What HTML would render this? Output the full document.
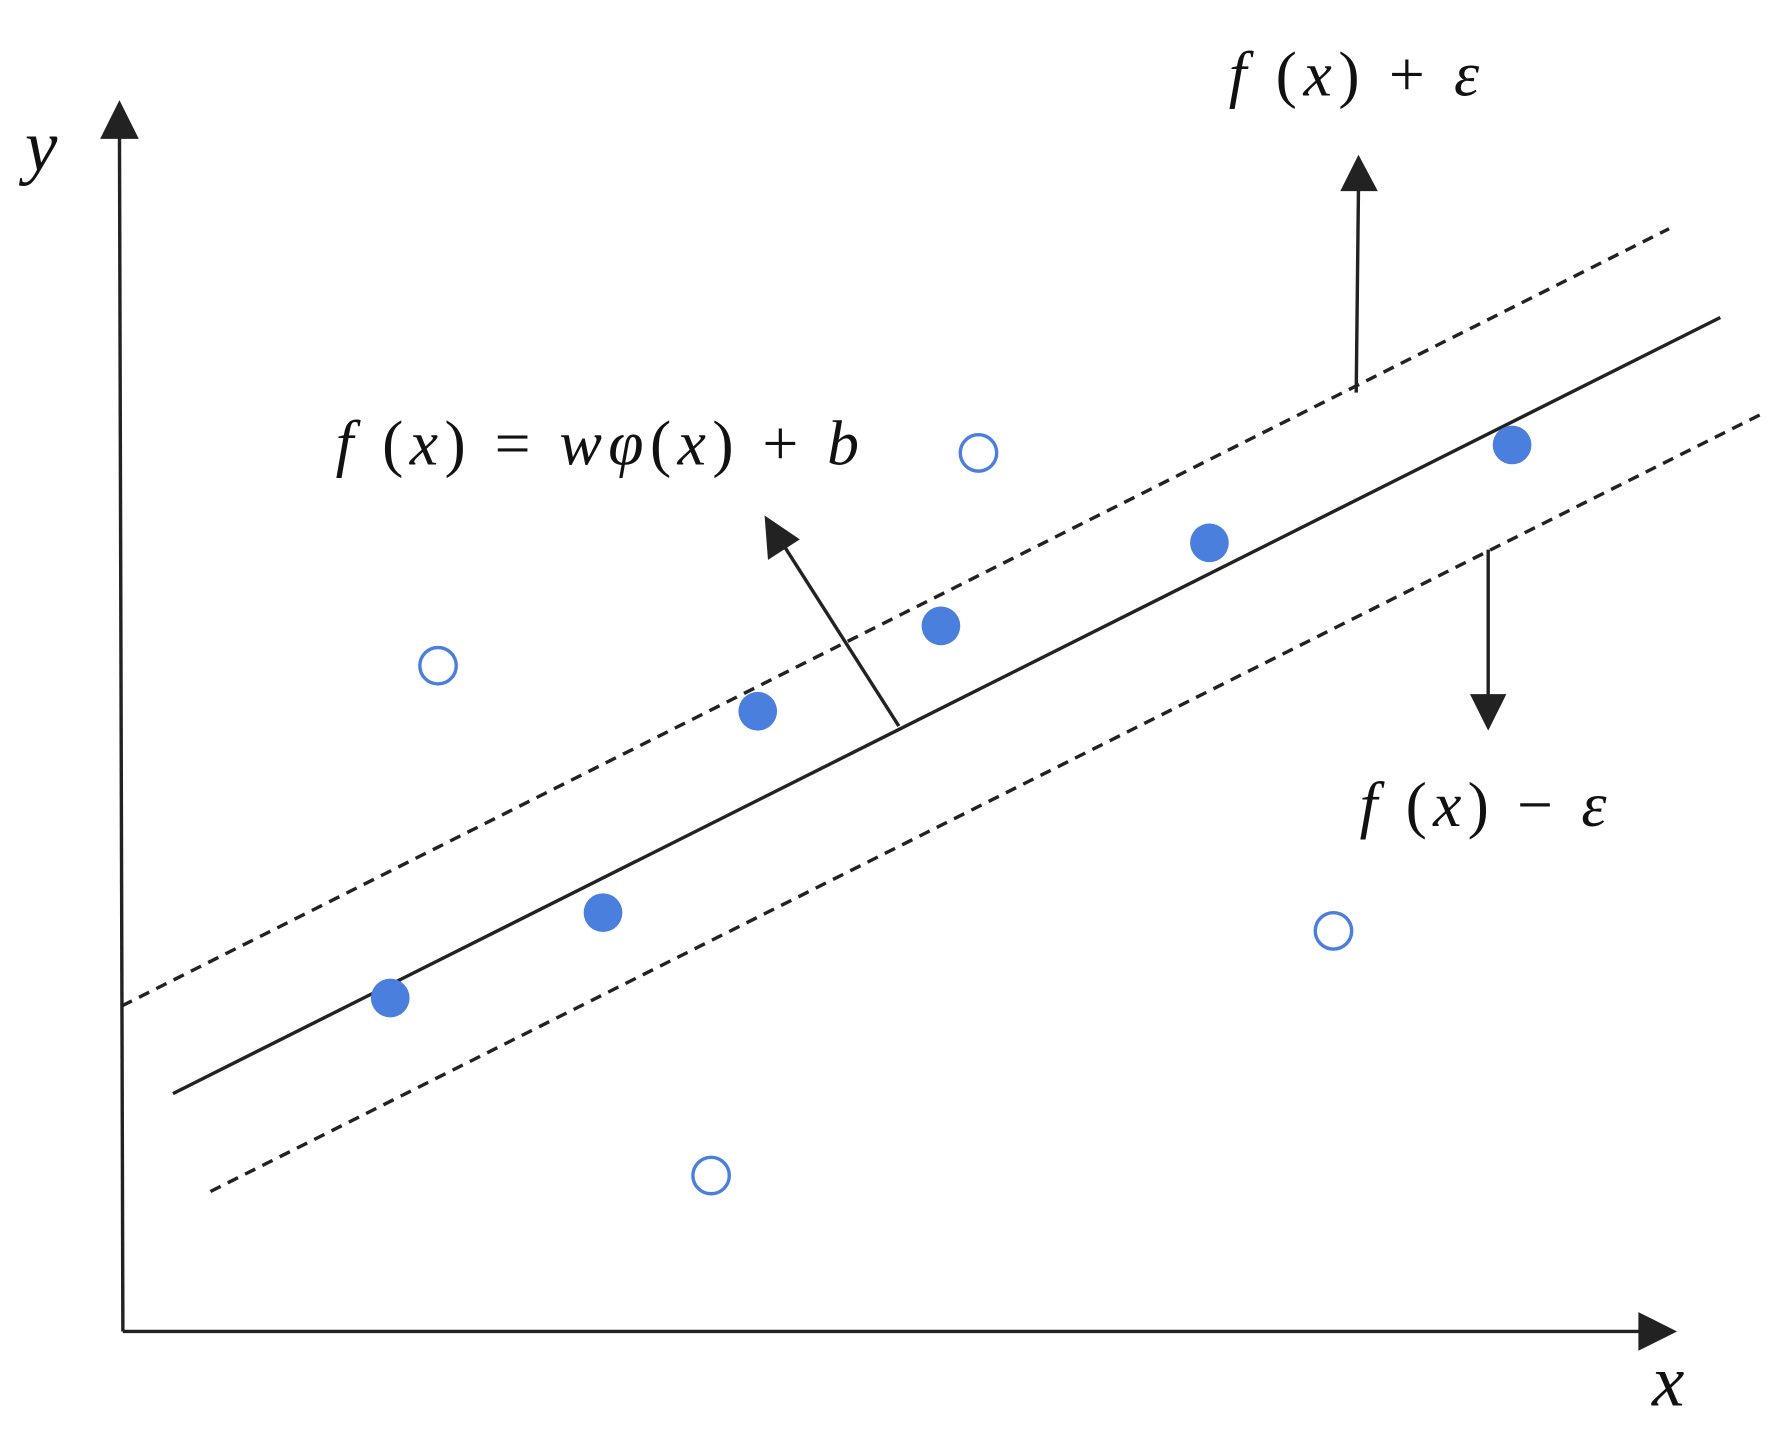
<!DOCTYPE html>
<html><head><style>html,body{margin:0;padding:0;background:#fff}svg{display:block}</style></head>
<body>
<svg width="1784" height="1435" viewBox="0 0 1568 1261" preserveAspectRatio="none" xmlns="http://www.w3.org/2000/svg">
<g stroke="#222" stroke-width="3" fill="none">
<line x1="105" y1="118" x2="108" y2="1170"/>
<line x1="108" y1="1170" x2="1442" y2="1170"/>
<line x1="152" y1="961" x2="1512" y2="279"/>
<line x1="107" y1="884" x2="1467" y2="201" stroke-dasharray="10,7"/>
<line x1="185" y1="1047" x2="1548" y2="364" stroke-dasharray="10,7"/>
<line x1="1192" y1="345" x2="1194" y2="165"/>
<line x1="1308" y1="483" x2="1308" y2="612"/>
<line x1="790" y1="638" x2="688" y2="478"/>
</g>
<g fill="#222">
<polygon points="105,88 88,122 122,122"/>
<polygon points="1474,1170 1440,1153 1440,1187"/>
<polygon points="1194,136 1178,168 1211,168"/>
<polygon points="1308,642 1292,610 1324,610"/>
<polygon points="672,453 675,492 703,474"/>
</g>
<g fill="#4a7fde">
<circle cx="343" cy="877" r="17"/><circle cx="530" cy="802" r="17"/><circle cx="666" cy="625" r="17"/>
<circle cx="827" cy="550" r="17"/><circle cx="1063" cy="477" r="17"/><circle cx="1329" cy="391" r="17"/>
</g>
<g fill="none" stroke="#4a7fde" stroke-width="3">
<circle cx="385" cy="585" r="16"/><circle cx="860" cy="398" r="16"/><circle cx="1172" cy="818" r="16"/><circle cx="625" cy="1033" r="16"/>
</g>
<g font-family="'Liberation Serif',serif" font-size="56" fill="#111">
<text x="22" y="150" font-style="italic" font-size="64">y</text>
<text x="1452" y="1235" font-style="italic" font-size="64">x</text>
<text x="295" y="408" textLength="460" lengthAdjust="spacing"><tspan font-style="italic">f</tspan> (<tspan font-style="italic">x</tspan>) = <tspan font-style="italic">wφ</tspan>(<tspan font-style="italic">x</tspan>) + <tspan font-style="italic">b</tspan></text>
<text x="1080" y="84" textLength="220" lengthAdjust="spacing"><tspan font-style="italic">f</tspan> (<tspan font-style="italic">x</tspan>) + <tspan font-style="italic">ε</tspan></text>
<text x="1195" y="726" textLength="217" lengthAdjust="spacing"><tspan font-style="italic">f</tspan> (<tspan font-style="italic">x</tspan>) − <tspan font-style="italic">ε</tspan></text>
</g>
</svg>
</body></html>
